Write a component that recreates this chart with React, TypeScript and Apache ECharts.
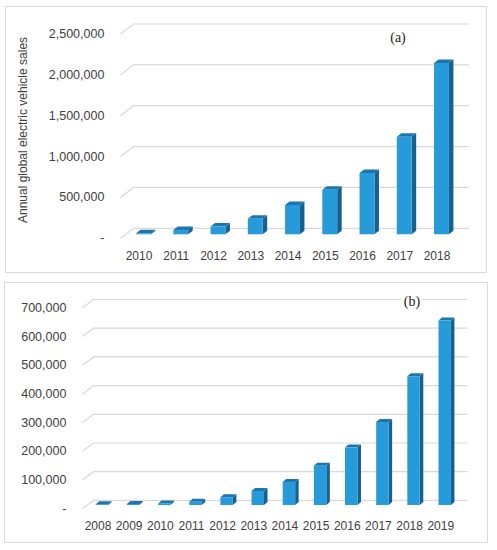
import { useEffect, useRef } from "react";
import * as echarts from "echarts";

// Panel (a): annual global EV sales
const YEARS_A = ["2010", "2011", "2012", "2013", "2014", "2015", "2016", "2017", "2018"];
const SALES_A = [12000, 52000, 95000, 190000, 360000, 545000, 750000, 1195000, 2095000];
const TICKS_A = [0, 500000, 1000000, 1500000, 2000000, 2500000];

// Panel (b)
const YEARS_B = ["2008", "2009", "2010", "2011", "2012", "2013", "2014", "2015", "2016", "2017", "2018", "2019"];
const SALES_B = [3000, 3500, 5500, 11500, 27000, 49000, 80000, 137000, 200000, 289000, 449000, 643000];
const TICKS_B = [0, 100000, 200000, 300000, 400000, 500000, 600000, 700000];

const FRONT = "#279bd9";
const TOP = "#1c76ae";
const SIDE = "#16618e";
const GRID = "#d9d9d9";
const TEXT = "#404040";
const FONT = "'Liberation Sans', Arial, sans-serif";

// back-wall gridlines with the little slanted floor edge on the left
const floorLines = (dx: number, dy: number) => (params: any, api: any) => {
  const cs = params.coordSys;
  const y = api.coord([0, api.value(1)])[1];
  return {
    type: "polyline",
    silent: true,
    shape: { points: [[cs.x, y], [cs.x + dx, y + dy], [cs.x + cs.width + dx, y + dy]] },
    style: { stroke: GRID, fill: null, lineWidth: 1.2 },
  };
};

// pseudo-3D column: front face, top and right side
const bars3d = (ox: number, oy: number, dx: number, dy: number) => (params: any, api: any) => {
  const i = api.value(0);
  const [cx, yTop] = api.coord([i, api.value(1)]);
  const yBase = api.coord([i, 0])[1];
  const w = api.size([1, 0])[0] * 0.4;
  const xl = cx + ox - w / 2;
  const xr = xl + w;
  const t = yTop + oy;
  const b = yBase + oy;
  return {
    type: "group",
    children: [
      { type: "polygon", shape: { points: [[xr, t], [xr + dx, t + dy], [xr + dx, b + dy], [xr, b]] }, style: { fill: SIDE } },
      { type: "polygon", shape: { points: [[xl, t], [xl + dx, t + dy], [xr + dx, t + dy], [xr, t]] }, style: { fill: TOP } },
      { type: "rect", shape: { x: xl, y: t, width: w, height: b - t }, style: { fill: FRONT } },
    ],
  };
};

const fmt = (v: number) => (v === 0 ? "-" : v.toLocaleString("en-US"));

export default function App() {
  const ref = useRef<HTMLDivElement>(null);

  useEffect(() => {
    if (!ref.current) return;
    const chart = echarts.init(ref.current, undefined, { renderer: "svg" });
    chart.setOption({
      animation: false,
      backgroundColor: "#ffffff",
      grid: [
        { left: 120.4, right: 41.4, top: 34, bottom: 311.7 },
        { left: 82.4, right: 40.7, top: 307.8, bottom: 41.3 },
      ],
      xAxis: [
        {
          gridIndex: 0, type: "category", data: YEARS_A,
          axisLine: { show: false }, axisTick: { show: false },
          axisLabel: { color: TEXT, fontFamily: FONT, fontSize: 12, margin: 12, interval: 0 },
        },
        {
          gridIndex: 1, type: "category", data: YEARS_B,
          axisLine: { show: false }, axisTick: { show: false },
          axisLabel: { color: TEXT, fontFamily: FONT, fontSize: 12, margin: 11, interval: 0 },
        },
      ],
      yAxis: [
        {
          gridIndex: 0, type: "value", min: 0, max: 2500000, interval: 500000,
          axisLine: { show: false }, axisTick: { show: false }, splitLine: { show: false },
          axisLabel: { color: TEXT, fontFamily: FONT, fontSize: 12.5, margin: 16, formatter: fmt },
        },
        {
          gridIndex: 1, type: "value", min: 0, max: 700000, interval: 100000,
          axisLine: { show: false }, axisTick: { show: false }, splitLine: { show: false },
          axisLabel: { color: TEXT, fontFamily: FONT, fontSize: 12.5, margin: 16, formatter: fmt },
        },
      ],
      series: [
        {
          type: "custom", xAxisIndex: 0, yAxisIndex: 0, z: 1, silent: true,
          renderItem: floorLines(13.3, -10),
          data: TICKS_A.map((v) => [0, v]),
        },
        {
          type: "custom", xAxisIndex: 0, yAxisIndex: 0, z: 2,
          renderItem: bars3d(4.5, -4, 4.5, -3.5),
          data: SALES_A.map((v, i) => [i, v]),
        },
        {
          type: "custom", xAxisIndex: 1, yAxisIndex: 1, z: 1, silent: true,
          renderItem: floorLines(11.2, -8.3),
          data: TICKS_B.map((v) => [0, v]),
        },
        {
          type: "custom", xAxisIndex: 1, yAxisIndex: 1, z: 2,
          renderItem: bars3d(4, -3.7, 3.5, -3),
          data: SALES_B.map((v, i) => [i, v]),
        },
      ],
      graphic: [
        { type: "rect", shape: { x: 5.5, y: 6.5, width: 481, height: 266 }, style: { fill: "transparent", stroke: GRID, lineWidth: 1 }, silent: true },
        { type: "rect", shape: { x: 4.5, y: 282.5, width: 483, height: 260 }, style: { fill: "transparent", stroke: GRID, lineWidth: 1 }, silent: true },
        {
          type: "text", x: 23, y: 130, rotation: Math.PI / 2,
          style: { text: "Annual global electric vehicle sales", font: `12px ${FONT}`, fill: TEXT, align: "center", verticalAlign: "middle" },
        },
        {
          type: "text", x: 398, y: 37, z: 10,
          style: { text: "(a)", font: "14px 'Liberation Serif', 'Times New Roman', serif", fill: "#222", align: "center", verticalAlign: "middle" },
        },
        {
          type: "text", x: 412, y: 301.5, z: 10,
          style: {
            text: "(b)", font: "14px 'Liberation Serif', 'Times New Roman', serif", fill: "#222",
            align: "center", verticalAlign: "middle", backgroundColor: "#ffffff", padding: [0, 2],
          },
        },
      ],
    });
    return () => chart.dispose();
  }, []);

  return <div ref={ref} style={{ position: "absolute", left: 0, top: 0, width: 497, height: 550 }} />;
}
